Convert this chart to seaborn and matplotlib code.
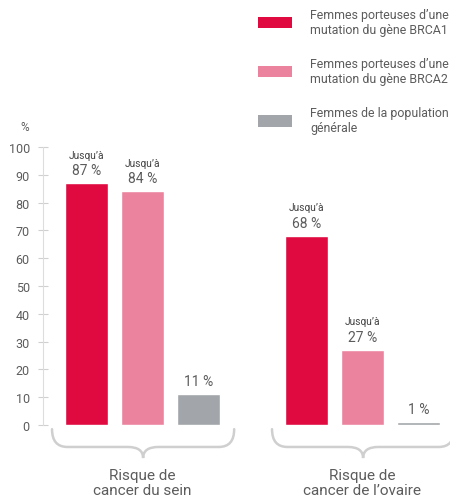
import matplotlib
matplotlib.use("Agg")
import matplotlib.pyplot as plt
import seaborn as sns
import pandas as pd
from matplotlib.path import Path
from matplotlib.patches import PathPatch, Patch

categories = ["Risque de\ncancer du sein", "Risque de\ncancer de l\u2019ovaire"]
groups = ["Femmes porteuses d\u2019une\nmutation du g\u00e8ne BRCA1",
          "Femmes porteuses d\u2019une\nmutation du g\u00e8ne BRCA2",
          "Femmes de la population\ng\u00e9n\u00e9rale"]
brca1 = [87, 68]
brca2 = [84, 27]
general = [11, 1]
prefix = [["Jusqu\u2019\u00e0", "Jusqu\u2019\u00e0"], ["Jusqu\u2019\u00e0", "Jusqu\u2019\u00e0"], ["", ""]]
colors = ["#E00A41", "#EC839E", "#A2A6AA"]
yticks = [0, 10, 20, 30, 40, 50, 60, 70, 80, 90, 100]

rows = []
for g, vals in zip(groups, [brca1, brca2, general]):
    for c, v in zip(categories, vals):
        rows.append({"cancer": c, "group": g, "risk": v})
df = pd.DataFrame(rows)

sns.set_theme(style="white")
plt.rcParams["font.family"] = ["Roboto", "DejaVu Sans"]
txt = "#5c5c5c"

fig = plt.figure(figsize=(4.5, 5.02), dpi=100)
ax = fig.add_axes([43 / 450, 76 / 502, 407 / 450, 278 / 502])
sns.barplot(data=df, x="cancer", y="risk", hue="group", palette=colors,
            width=0.764, gap=0.23, legend=False, ax=ax, saturation=1,
            order=categories, hue_order=groups)
ax.set_xlim(-0.452, 1.398)
ax.set_ylim(0, 100)
ax.set_xlabel("")
ax.set_ylabel("")
for s in ["top", "right", "bottom"]:
    ax.spines[s].set_visible(False)
ax.spines["left"].set_color("#dddddd")
ax.spines["left"].set_linewidth(0.8)
ax.set_yticks(yticks)
ax.tick_params(axis="y", direction="inout", length=7, width=0.8, color="#d0d0d0",
               labelsize=9, labelcolor=txt, pad=6, left=True)
ax.tick_params(axis="x", length=0, labelsize=11, labelcolor=txt, pad=31)
for lab in ax.get_xticklabels():
    lab.set_linespacing(1.1)

ax.annotate("%", xy=(0, 1), xycoords="axes fraction", xytext=(-13, 15),
            textcoords="offset points", ha="center", va="center",
            fontsize=8.5, color=txt)

for ci, cont in enumerate(ax.containers):
    for bi, bar in enumerate(cont):
        h = bar.get_height()
        xc = bar.get_x() + bar.get_width() / 2
        ax.annotate(f"{int(round(h))} %", xy=(xc, h), xytext=(0, 9.5),
                    textcoords="offset points", ha="center", va="center",
                    fontsize=10, color=txt)
        if prefix[ci][bi]:
            ax.annotate(prefix[ci][bi], xy=(xc, h), xytext=(0, 20.5),
                        textcoords="offset points", ha="center", va="center",
                        fontsize=7.3, color="#444444")

# braces
def brace(xc, half, ytop=-1.5, ymid=-7.9, ybot=-11.9, r=0.07):
    x0, x1 = xc - half, xc + half
    verts = [(x0, ytop), (x0, ymid), (x0 + r, ymid),
             (xc - r, ymid), (xc, ymid), (xc, ybot),
             (xc, ymid), (xc + r, ymid),
             (x1 - r, ymid), (x1, ymid), (x1, ytop)]
    codes = [Path.MOVETO, Path.CURVE3, Path.CURVE3,
             Path.LINETO, Path.CURVE3, Path.CURVE3,
             Path.CURVE3, Path.CURVE3,
             Path.LINETO, Path.CURVE3, Path.CURVE3]
    p = PathPatch(Path(verts, codes), facecolor="none", edgecolor="#cfcfcf",
                  linewidth=1.8, clip_on=False, capstyle="round")
    ax.add_patch(p)

for i in range(len(categories)):
    brace(i + 0.003, 0.414)

handles = [Patch(facecolor=c, edgecolor="none") for c in colors]
fig.legend(handles, groups, loc="upper left", bbox_to_anchor=(252 / 450, 1 - 3 / 502),
           frameon=False, fontsize=8.9, handlelength=2.75, handleheight=1.0,
           handletextpad=1.45, labelspacing=1.7, borderpad=0, labelcolor=txt)

fig.savefig("out.png", dpi=100)
